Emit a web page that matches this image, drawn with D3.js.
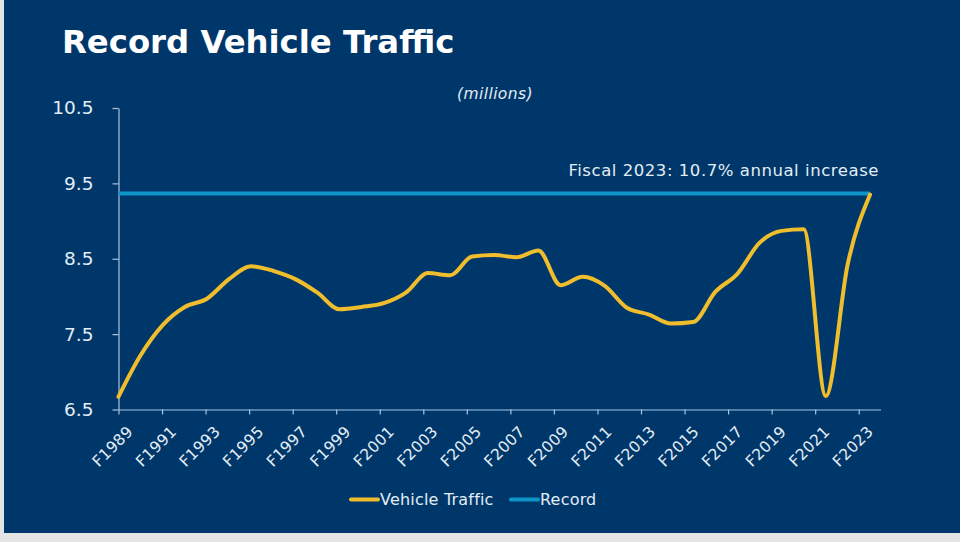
<!DOCTYPE html>
<html>
<head>
<meta charset="utf-8">
<script src="https://cdn.jsdelivr.net/npm/d3@7"></script>
<style>
html, body { margin: 0; padding: 0; background: #e4e4e4; }
text { font-family: "DejaVu Sans", sans-serif; }
</style>
</head>
<body>
<div id="viz"></div>
<script>
var WIDTH = 960;
var HEIGHT = 542;

// fiscal years, one point per year
var years = d3.range(1989, 2024);
var traffic = [6.67, 7.22, 7.62, 7.86, 7.97, 8.23, 8.40, 8.34, 8.23, 8.05,
    7.83, 7.86, 7.91, 8.05, 8.31, 8.28, 8.53, 8.55, 8.52, 8.61,
    8.15, 8.26, 8.14, 7.85, 7.76, 7.64, 7.66, 8.06, 8.30, 8.71,
    8.87, 8.89, 6.68, 8.44, 9.35];
var record = years.map(function () { return 9.367; });
var yTicks = [6.5, 7.5, 8.5, 9.5, 10.5];
var xTicks = d3.range(1989, 2024, 2);
var legendItems = ["Vehicle Traffic", "Record"];

var NAVY = "#00376a";
var AXIS = "#a8c4df";
var LABEL = "#e3edf5";
var YELLOW = "#f0bd2c";
var BLUE = "#0f94c8";

var svg = d3.select("#viz")
    .append("svg")
    .attr("width", WIDTH)
    .attr("height", HEIGHT)
    .style("display", "block");

svg.append("rect")
    .attr("x", 4)
    .attr("y", 0)
    .attr("width", WIDTH - 4)
    .attr("height", 533)
    .attr("fill", NAVY);

// data runs a little wider per year than the axis ticks
var x = d3.scalePoint().domain(years).range([118.5, 870]);
var xAxisScale = d3.scaleLinear().domain([1989, 2024]).range([118.5, 880.5]);
var y = d3.scaleLinear().domain([6.5, 10.5]).range([409.5, 108]);

var xAxis = svg.append("g")
    .attr("transform", "translate(0," + y(6.5) + ")")
    .call(d3.axisBottom(xAxisScale)
        .tickValues(xTicks)
        .tickSize(5)
        .tickSizeOuter(0)
        .tickFormat(function (d) { return "F" + d; }));
xAxis.selectAll("text")
    .attr("fill", LABEL)
    .style("font-size", "15.5px")
    .style("letter-spacing", "0.3px")
    .attr("text-anchor", "end")
    .attr("dx", 0)
    .attr("dy", 0)
    .attr("y", 0)
    .attr("transform", "translate(15,23) rotate(-45)");

var yAxis = svg.append("g")
    .attr("transform", "translate(118.5,0)")
    .call(d3.axisLeft(y)
        .tickValues(yTicks)
        .tickSize(6)
        .tickSizeOuter(0)
        .tickFormat(d3.format(".1f")));
yAxis.selectAll("text")
    .attr("fill", LABEL)
    .attr("x", -25)
    .style("font-size", "18.5px");

svg.selectAll(".domain, .tick line")
    .attr("stroke", AXIS)
    .attr("stroke-width", 1.2);

var line = d3.line()
    .x(function (d) { return x(d.year); })
    .y(function (d) { return y(d.value); });

function toPoints(values) {
    return years.map(function (year, i) { return { year: year, value: values[i] }; });
}

svg.append("path")
    .attr("d", line(toPoints(record)))
    .attr("fill", "none")
    .attr("stroke", BLUE)
    .attr("stroke-width", 4);

svg.append("path")
    .attr("d", line.curve(d3.curveMonotoneX)(toPoints(traffic)))
    .attr("fill", "none")
    .attr("stroke", YELLOW)
    .attr("stroke-width", 4)
    .attr("stroke-linecap", "round");

svg.append("text")
    .attr("x", 62)
    .attr("y", 53)
    .attr("fill", "#ffffff")
    .style("font-size", "32.3px")
    .style("font-weight", "bold")
    .text("Record Vehicle Traffic");

svg.append("text")
    .attr("x", 495)
    .attr("y", 99)
    .attr("text-anchor", "middle")
    .attr("fill", LABEL)
    .style("font-size", "15.5px")
    .style("letter-spacing", "0.4px")
    .style("font-style", "italic")
    .text("(millions)");

svg.append("text")
    .attr("x", 879)
    .attr("y", 176)
    .attr("text-anchor", "end")
    .attr("fill", LABEL)
    .style("font-size", "16.5px")
    .style("letter-spacing", "0.55px")
    .text("Fiscal 2023: 10.7% annual increase");

// legend
var legendX = [351, 511];
var legendColors = [YELLOW, BLUE];
legendItems.forEach(function (name, i) {
    svg.append("line")
        .attr("x1", legendX[i])
        .attr("x2", legendX[i] + 27)
        .attr("y1", 499.5)
        .attr("y2", 499.5)
        .attr("stroke", legendColors[i])
        .attr("stroke-width", 4)
        .attr("stroke-linecap", "round");
    svg.append("text")
        .attr("x", legendX[i] + 29)
        .attr("y", 505)
        .attr("fill", LABEL)
        .style("font-size", "16px")
        .style("letter-spacing", "0.2px")
        .text(name);
});
</script>
</body>
</html>
